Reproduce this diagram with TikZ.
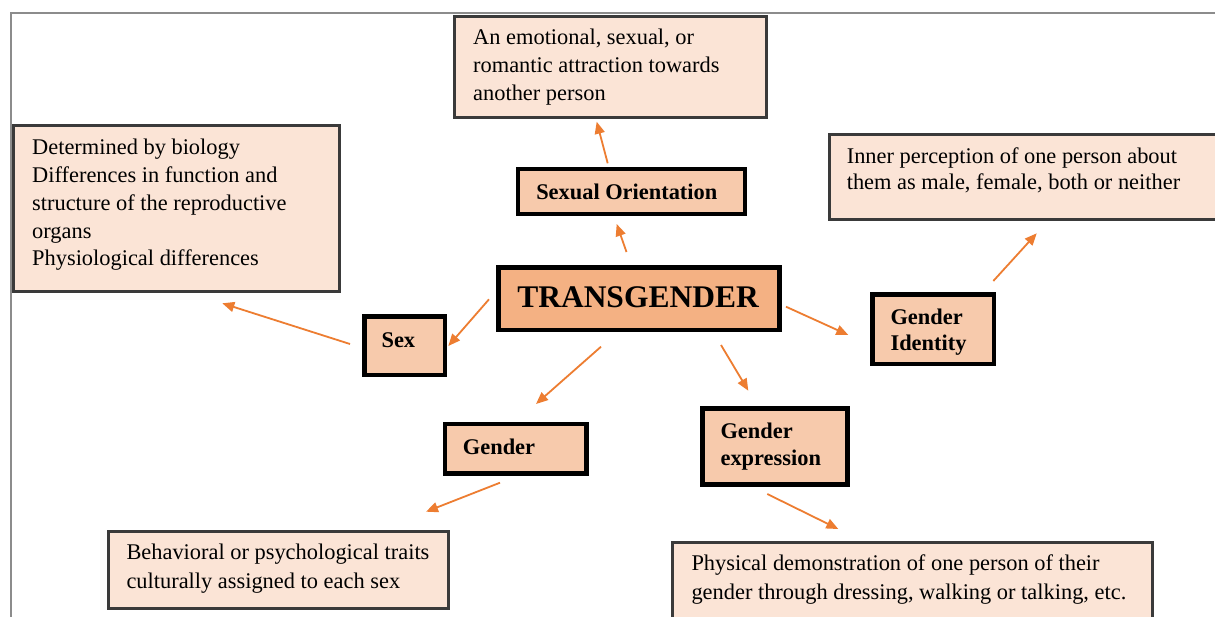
\documentclass[tikz,border=0pt]{standalone}
\usepackage{fontspec}
\setmainfont{Liberation Serif}
\usetikzlibrary{arrows.meta}
\definecolor{infofill}{HTML}{FBE4D6}
\definecolor{labfill}{HTML}{F7CAAC}
\definecolor{tgfill}{HTML}{F4B183}
\definecolor{arrowc}{HTML}{ED7D31}
\definecolor{infoline}{HTML}{3A3A3A}
\definecolor{framec}{HTML}{8C8C8C}
\newcommand\bx[6]{\parbox[t][#2pt][t]{#1pt}{\raggedright\leftskip=#4pt\relax\baselineskip=#5pt\relax\rule{0pt}{#3pt}#6}}
\tikzset{
  infobox/.style={draw=infoline, fill=infofill, line width=3pt, inner sep=0pt, anchor=north west,
    font=\fontsize{22.4}{28}\selectfont},
  labbox/.style={draw=black, fill=labfill, line width=4.5pt, inner sep=0pt, anchor=north west,
    font=\bfseries\fontsize{22.4}{28}\selectfont},
  tgbox/.style={labbox, fill=tgfill, font=\bfseries\fontsize{31.5}{36}\selectfont},
  conn/.style={draw=arrowc, line width=1.8pt, -{Triangle[length=12pt,width=10pt]}},
  frameline/.style={draw=framec, line width=1.5pt}
}
\begin{document}
\begin{tikzpicture}[x=1pt,y=-1pt]
\clip (0,0) rectangle (1215,616);
\fill[white] (0,0) rectangle (1215,616);
\draw[frameline] (1216,13) -- (11,13) -- (11,617);

% info boxes
\node[infobox] (oinfo) at (453,15) {\bx{312}{101}{28.3}{18.7}{28}{An emotional, sexual, or\\romantic attraction towards\\another person}};
\node[infobox] (sinfo) at (12,123.5) {\bx{325.5}{166}{29.8}{18.7}{27.75}{Determined by biology\\Differences in function and\\structure of the reproductive\\organs\\Physiological differences}};
\node[infobox] (iinfo) at (827.5,133) {\bx{412.5}{85}{28.7}{17.8}{26.7}{Inner perception of one person about\\them as male, female, both or neither}};
\node[infobox] (binfo) at (106.5,530) {\bx{340.5}{77}{28.3}{18.5}{28.4}{Behavioral or psychological traits\\culturally assigned to each sex}};
\node[infobox] (pinfo) at (670.5,541) {\bx{480}{99}{28}{19.5}{29.3}{Physical demonstration of one person of their\\gender through dressing, walking or talking, etc.}};

% label boxes
\node[labbox] (so) at (515.5,166.5) {\bx{227}{45}{30.5}{18.5}{28}{Sexual Orientation}};
\node[tgbox] (tg) at (496,265) {\bx{281}{62.5}{40}{19}{36}{TRANSGENDER}};
\node[labbox] (sex) at (362,314) {\bx{80.5}{58.5}{31}{17.3}{28}{Sex}};
\node[labbox] (gi) at (870,292) {\bx{121.5}{69.5}{30.7}{18.3}{25.7}{Gender\\Identity}};
\node[labbox] (gen) at (442.5,421.5) {\bx{141.5}{49.5}{31.2}{18.2}{28}{Gender}};
\node[labbox] (ge) at (700,406) {\bx{145}{76}{30.7}{18.3}{26.7}{Gender\\expression}};

% connector end points
\coordinate (so-o) at (607.7,163.3);  \coordinate (oinfo-i) at (596.7,121.7);
\coordinate (tg-so) at (626.5,252);   \coordinate (so-i) at (616.7,224);
\coordinate (tg-sex) at (489,299.3);  \coordinate (sex-i) at (448.3,346);
\coordinate (sex-o) at (350,344);     \coordinate (sinfo-i) at (222.3,303.3);
\coordinate (tg-gi) at (786,306.7);   \coordinate (gi-i) at (848.3,335);
\coordinate (gi-o) at (993.3,281);    \coordinate (iinfo-i) at (1036.7,233.3);
\coordinate (tg-gen) at (601,346.7);  \coordinate (gen-i) at (536,404);
\coordinate (tg-ge) at (721,345);     \coordinate (ge-i) at (748.3,390.7);
\coordinate (gen-o) at (500,482.7);   \coordinate (binfo-i) at (426,511.7);
\coordinate (ge-o) at (767.3,494);    \coordinate (pinfo-i) at (838.3,529);

\draw[conn] (so-o) -- (oinfo-i);
\draw[conn] (tg-so) -- (so-i);
\draw[conn] (tg-sex) -- (sex-i);
\draw[conn] (sex-o) -- (sinfo-i);
\draw[conn] (tg-gi) -- (gi-i);
\draw[conn] (gi-o) -- (iinfo-i);
\draw[conn] (tg-gen) -- (gen-i);
\draw[conn] (tg-ge) -- (ge-i);
\draw[conn] (gen-o) -- (binfo-i);
\draw[conn] (ge-o) -- (pinfo-i);
\end{tikzpicture}
\end{document}
